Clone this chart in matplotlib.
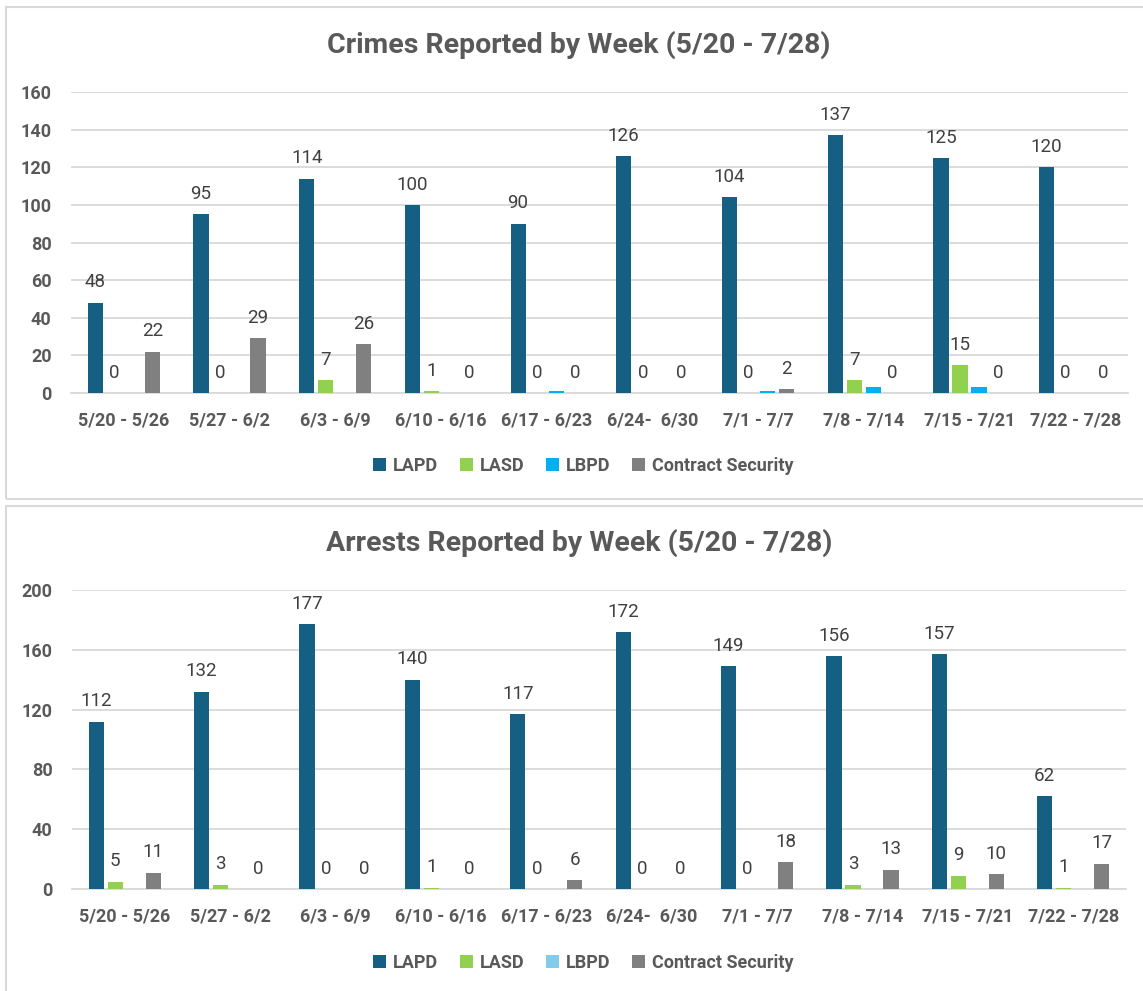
import matplotlib
matplotlib.use("Agg")
import matplotlib.pyplot as plt
from matplotlib.patches import Rectangle
import numpy as np

plt.rcParams['font.family'] = ['Roboto', 'DejaVu Sans']

# dados
semanas = ["5/20 - 5/26", "5/27 - 6/2", "6/3 - 6/9", "6/10 - 6/16", "6/17 - 6/23",
           "6/24-  6/30", "7/1 - 7/7", "7/8 - 7/14", "7/15 - 7/21", "7/22 - 7/28"]
agencias = ["LAPD", "LASD", "LBPD", "Contract Security"]

crimes_lapd = [48, 95, 114, 100, 90, 126, 104, 137, 125, 120]
crimes_lasd = [0, 0, 7, 1, 0, 0, 0, 7, 15, 0]
crimes_lbpd = [0, 0, 0, 0, 1, 0, 1, 3, 3, 0]
crimes_contract = [22, 29, 26, 0, 0, 0, 2, 0, 0, 0]

arrests_lapd = [112, 132, 177, 140, 117, 172, 149, 156, 157, 62]
arrests_lasd = [5, 3, 0, 1, 0, 0, 0, 3, 9, 1]
arrests_lbpd = [0, 0, 0, 0, 0, 0, 0, 0, 0, 0]
arrests_contract = [11, 0, 0, 0, 6, 0, 18, 13, 10, 17]

W, H = 1143, 991
fig = plt.figure(figsize=(W / 100, H / 100), dpi=100)

# molduras dos dois graficos
fig.add_artist(Rectangle((6 / W, 1 - 499 / H), 1.2, (499 - 7) / H, transform=fig.transFigure,
                         fill=False, ec='#D9D9D9', lw=1.5))
fig.add_artist(Rectangle((6 / W, -0.1), 1.2, 1.1 - 506 / H, transform=fig.transFigure,
                         fill=False, ec='#D9D9D9', lw=1.5))


def desenha(left, right, y0, ytop, series, cores, ymax, passo, titulo, titulo_y, legenda_y):
    ax = fig.add_axes([left / W, (H - y0) / H, (right - left) / W, (y0 - ytop) / H])
    x = np.arange(len(semanas))
    for i in range(4):
        pos = x + (i - 1.5) * 0.18
        ax.bar(pos, series[i], width=0.144, color=cores[i], label=agencias[i], zorder=3)
        if agencias[i] == "LBPD":  # LBPD sem rotulo
            continue
        for p, v in zip(pos, series[i]):
            ax.annotate(str(v), (p, v), xytext=(0, 11), textcoords='offset points',
                        ha='center', va='baseline', fontsize=13.5, color='#404040')
    ax.set_xlim(-0.5, 9.5)
    ax.set_ylim(0, ymax)
    ax.set_yticks(range(0, ymax + 1, passo))
    ax.set_xticks(x, semanas)
    ax.grid(axis='y', color='#D9D9D9', lw=1.3, zorder=0)
    for s in ['top', 'right', 'left']:
        ax.spines[s].set_visible(False)
    ax.spines['bottom'].set_color('#D9D9D9')
    ax.spines['bottom'].set_linewidth(1.3)
    ax.tick_params(length=0, colors='#595959')
    ax.tick_params(axis='y', labelsize=13, pad=14)
    ax.tick_params(axis='x', labelsize=13, pad=13)
    for t in ax.get_xticklabels() + ax.get_yticklabels():
        t.set_fontweight('bold')
    fig.text(579 / W, 1 - titulo_y / H, titulo, ha='center', va='center', fontsize=20.5,
             fontweight='bold', color='#595959')
    fig.legend(*ax.get_legend_handles_labels(), loc='center', bbox_to_anchor=(583 / W, 1 - legenda_y / H),
               ncol=4, frameon=False, prop={'weight': 'bold', 'size': 13}, labelcolor='#595959',
               handlelength=0.75, handleheight=0.75, handletextpad=0.35, columnspacing=1.2)
    return ax


desenha(71, 1128, 393, 92, [crimes_lapd, crimes_lasd, crimes_lbpd, crimes_contract],
        ['#156082', '#92D050', '#00B0F0', '#808080'], 160, 20,
        "Crimes Reported by Week (5/20 - 7/28)", 45, 466)

desenha(72, 1126, 889, 590, [arrests_lapd, arrests_lasd, arrests_lbpd, arrests_contract],
        ['#156082', '#92D050', '#83CBEB', '#808080'], 200, 40,
        "Arrests Reported by Week (5/20 - 7/28)", 543, 963)

fig.savefig("out.png", dpi=100)
